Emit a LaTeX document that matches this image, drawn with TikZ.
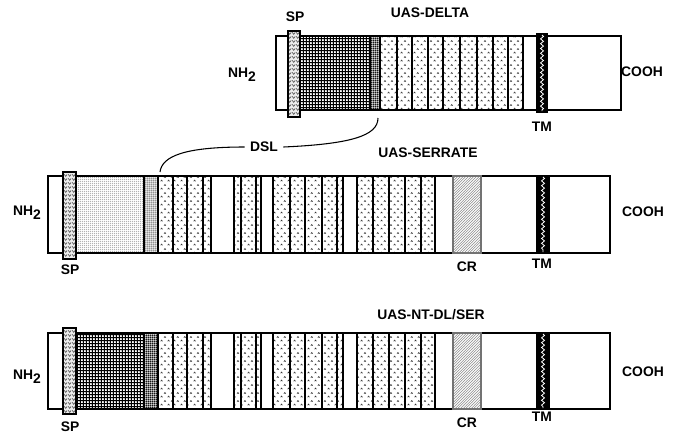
\documentclass[tikz,border=0pt]{standalone}
\usepackage{fontspec}
\setmainfont{Liberation Sans}
\usepackage{tikz}
\usetikzlibrary{patterns,decorations.pathmorphing}
\pgfdeclarepatternformonly{carets}{\pgfqpoint{0pt}{0pt}}{\pgfqpoint{5pt}{6pt}}{\pgfqpoint{5pt}{6pt}}{%
  \pgfsetlinewidth{0.45pt}%
  \pgfpathmoveto{\pgfqpoint{0.5pt}{0.6pt}}\pgfpathlineto{\pgfqpoint{1.2pt}{1.6pt}}\pgfpathlineto{\pgfqpoint{1.9pt}{0.6pt}}%
  \pgfpathmoveto{\pgfqpoint{3pt}{3.6pt}}\pgfpathlineto{\pgfqpoint{3.7pt}{4.6pt}}\pgfpathlineto{\pgfqpoint{4.4pt}{3.6pt}}%
  \pgfusepath{stroke}}
\pgfdeclarepatternformonly{chevrons}{\pgfqpoint{0pt}{0pt}}{\pgfqpoint{3pt}{2.6pt}}{\pgfqpoint{3pt}{2.6pt}}{%
  \pgfsetlinewidth{0.5pt}%
  \pgfpathmoveto{\pgfqpoint{0.2pt}{2.2pt}}\pgfpathlineto{\pgfqpoint{1.5pt}{0.6pt}}\pgfpathlineto{\pgfqpoint{2.8pt}{2.2pt}}%
  \pgfusepath{stroke}}
\pgfdeclarepatternformonly{finegrid}{\pgfqpoint{0pt}{0pt}}{\pgfqpoint{2.2pt}{2.2pt}}{\pgfqpoint{2.2pt}{2.2pt}}{%
  \pgfsetlinewidth{0.7pt}%
  \pgfpathmoveto{\pgfqpoint{0pt}{1.1pt}}\pgfpathlineto{\pgfqpoint{2.2pt}{1.1pt}}%
  \pgfpathmoveto{\pgfqpoint{1.1pt}{0pt}}\pgfpathlineto{\pgfqpoint{1.1pt}{2.2pt}}%
  \pgfusepath{stroke}}
\pgfdeclarepatternformonly{densegrid}{\pgfqpoint{0pt}{0pt}}{\pgfqpoint{1.6pt}{1.6pt}}{\pgfqpoint{1.6pt}{1.6pt}}{%
  \pgfsetlinewidth{0.65pt}%
  \pgfpathmoveto{\pgfqpoint{0pt}{0.8pt}}\pgfpathlineto{\pgfqpoint{1.6pt}{0.8pt}}%
  \pgfpathmoveto{\pgfqpoint{0.8pt}{0pt}}\pgfpathlineto{\pgfqpoint{0.8pt}{1.6pt}}%
  \pgfusepath{stroke}}
\pgfdeclarepatternformonly{finedots}{\pgfqpoint{0pt}{0pt}}{\pgfqpoint{1.6pt}{1.6pt}}{\pgfqpoint{1.6pt}{1.6pt}}{%
  \pgfpathcircle{\pgfqpoint{0.8pt}{0.8pt}}{0.48pt}%
  \pgfusepath{fill}}
\pgfdeclarepatternformonly{densedots}{\pgfqpoint{0pt}{0pt}}{\pgfqpoint{1.4pt}{1.4pt}}{\pgfqpoint{1.4pt}{1.4pt}}{%
  \pgfpathcircle{\pgfqpoint{0.7pt}{0.7pt}}{0.5pt}%
  \pgfusepath{fill}}
\pgfdeclarepatternformonly{finediag}{\pgfqpoint{-1pt}{-1pt}}{\pgfqpoint{3pt}{3pt}}{\pgfqpoint{2pt}{2pt}}{%
  \pgfsetlinewidth{0.4pt}%
  \pgfpathmoveto{\pgfqpoint{0pt}{0pt}}\pgfpathlineto{\pgfqpoint{2.1pt}{2.1pt}}%
  \pgfusepath{stroke}}
\tikzset{
  protein/.style ={draw=black, line width=1.4pt, fill=white},
  egf/.style     ={draw=black, line width=1.5pt, pattern=carets, pattern color=black!80},
  dlgrid/.style  ={draw=black, line width=1pt, pattern=finegrid},
  dldense/.style ={draw=black, line width=1pt, pattern=densegrid},
  serdots/.style ={draw=black, line width=1pt, pattern=finedots, pattern color=black!85},
  serdense/.style={draw=black, line width=1pt, pattern=densedots, pattern color=black},
  spbox/.style   ={draw=black, line width=1pt, preaction={fill=gray!15},
                   pattern=chevrons, pattern color=black!75},
  crbox/.style   ={draw=black!55, line width=0.8pt, pattern=finediag, pattern color=black!45},
  tmbox/.style   ={draw=black, line width=1pt, fill=black},
  wave/.style    ={white, line width=0.6pt, decorate,
                   decoration={snake, amplitude=1.1pt, segment length=3.6pt}},
  lbl/.style     ={font=\bfseries\fontsize{10.4}{12}\selectfont, inner sep=0pt},
  tie/.style     ={line width=0.8pt},
}
\begin{document}
\begin{tikzpicture}[x=0.75pt, y=-0.75pt]
    \useasboundingbox (0,0) rectangle (676,437);

    % UAS-DELTA
    \draw[protein] (276,36) rectangle (621,110);
    \draw[dlgrid] (300,36) rectangle (370,110);
    \draw[dldense] (370,36) rectangle (380,110);
    \foreach \a/\b in {380/397, 397/412, 412/428, 428/443, 443/460, 460/477, 477/493, 493/508, 508/523}
        \draw[egf] (\a,36) rectangle (\b,110);
    \draw[tmbox] (537,34) rectangle (547,112);
    \draw[wave] (542,35) -- (542,111);
    \draw[spbox] (288,31) rectangle (300,117);

    \node[lbl] (titleDelta) at (430,13) {UAS-DELTA};
    \node[lbl] (spDelta) at (295,17) {SP};
    \node[lbl] (nhDelta) at (242,75) {NH\raisebox{-0.6ex}{2}};
    \node[lbl] (coohDelta) at (642,72) {COOH};
    \node[lbl] (tmDelta) at (542,127) {TM};

    % UAS-SERRATE
    \draw[protein] (48,176) rectangle (610,253);
    \draw[serdots] (76,176) rectangle (144,253);
    \draw[serdense] (144,176) rectangle (158,253);
    \foreach \a/\b in {158/173, 173/187, 187/203, 203/211, 234/241, 241/256, 256/261,
                       273/290, 290/305, 305/322, 322/337, 337/343,
                       357/373, 373/389, 389/405, 405/421, 421/435}
        \draw[egf] (\a,176) rectangle (\b,253);
    \draw[crbox] (453,176) rectangle (481,253);
    \draw[tmbox] (537,176) rectangle (549,253);
    \draw[wave] (543,177) -- (543,252);
    \draw[spbox] (63,172) rectangle (76,259);

    \node[lbl] (titleSer) at (428,153) {UAS-SERRATE};
    \node[lbl] (nhSer) at (27,213) {NH\raisebox{-0.6ex}{2}};
    \node[lbl] (coohSer) at (643,212) {COOH};
    \node[lbl] (spSer) at (70,270) {SP};
    \node[lbl] (crSer) at (467,267) {CR};
    \node[lbl] (tmSer) at (542,264) {TM};

    % UAS-NT-DL/SER
    \draw[protein] (48,333) rectangle (610,409);
    \draw[dlgrid] (76,333) rectangle (144,409);
    \draw[dldense] (144,333) rectangle (158,409);
    \foreach \a/\b in {158/173, 173/187, 187/203, 203/211, 234/241, 241/256, 256/261,
                       273/290, 290/305, 305/322, 322/337, 337/343,
                       357/373, 373/389, 389/405, 405/421, 421/435}
        \draw[egf] (\a,333) rectangle (\b,409);
    \draw[crbox] (453,333) rectangle (481,409);
    \draw[tmbox] (537,333) rectangle (549,409);
    \draw[wave] (543,334) -- (543,408);
    \draw[spbox] (63,328) rectangle (76,414);

    \node[lbl] (titleNt) at (431,315) {UAS-NT-DL/SER};
    \node[lbl] (nhNt) at (27,377) {NH\raisebox{-0.6ex}{2}};
    \node[lbl] (coohNt) at (643,372) {COOH};
    \node[lbl] (spNt) at (70,427) {SP};
    \node[lbl] (crNt) at (467,423) {CR};
    \node[lbl] (tmNt) at (542,417) {TM};

    % DSL
    \node[lbl, inner xsep=4pt] (dsl) at (264,147) {DSL};
    \coordinate (dslTop) at (378,118);
    \coordinate (dslMid) at (160,172);
    \draw[tie] (dsl.east) .. controls (350,144) and (378,136) .. (dslTop);
    \draw[tie] (dsl.west) .. controls (185,147) and (162,156) .. (dslMid);
  \end{tikzpicture}
\end{document}
